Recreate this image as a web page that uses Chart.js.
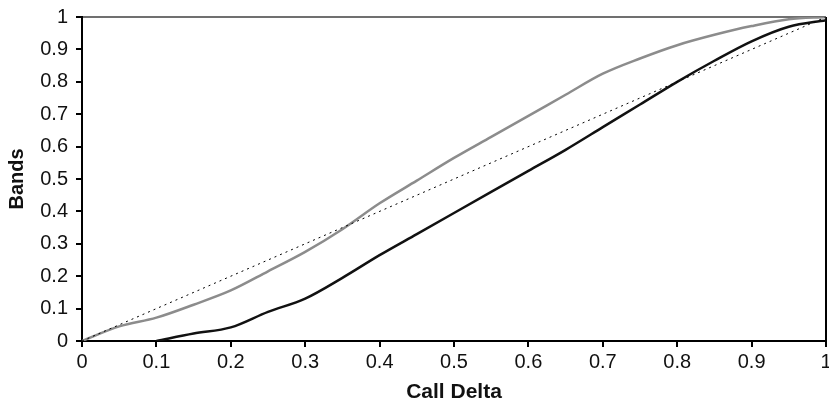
<!DOCTYPE html>
<html>
<head>
<meta charset="utf-8">
<script src="https://cdn.jsdelivr.net/npm/chart.js@4/dist/chart.umd.min.js"></script>
<style>
  html, body { margin: 0; padding: 0; background: #fff; }
  #wrap { width: 829px; height: 403px; }
</style>
</head>
<body>
<div id="wrap"><canvas id="myChart" width="829" height="403"></canvas></div>
<script>
// values
var deltaGray = [0, 0.05, 0.1, 0.15, 0.2, 0.25, 0.3, 0.35, 0.4, 0.45, 0.5, 0.55, 0.6, 0.65, 0.7, 0.75, 0.8, 0.85, 0.9, 0.95, 1];
var bandsGray = [0, 0.045, 0.072, 0.112, 0.156, 0.215, 0.275, 0.345, 0.425, 0.495, 0.565, 0.63, 0.695, 0.76, 0.825, 0.872, 0.913, 0.945, 0.972, 0.993, 1];
var deltaBlack = [0.1, 0.15, 0.2, 0.25, 0.3, 0.35, 0.4, 0.45, 0.5, 0.55, 0.6, 0.65, 0.7, 0.75, 0.8, 0.85, 0.9, 0.95, 1];
var bandsBlack = [0, 0.023, 0.042, 0.09, 0.131, 0.195, 0.265, 0.33, 0.395, 0.46, 0.525, 0.59, 0.66, 0.73, 0.8, 0.865, 0.925, 0.97, 0.99];
var deltaDiag = [0, 1];
var bandsDiag = [0, 1];
var tickValues = [0, 0.1, 0.2, 0.3, 0.4, 0.5, 0.6, 0.7, 0.8, 0.9, 1];

function toPoints(xs, ys) {
    return xs.map(function (x, i) { return { x: x, y: ys[i] }; });
}

var fontFamily = '"Liberation Sans", Arial, sans-serif';

var ctx = document.getElementById('myChart').getContext('2d');
var myChart = new Chart(ctx, {
    type: 'line',
    data: {
        datasets: [
            {
                label: 'diagonal',
                data: toPoints(deltaDiag, bandsDiag),
                borderColor: '#000',
                borderWidth: 1,
                borderDash: [2, 4],
                pointRadius: 0,
                tension: 0
            },
            {
                label: 'upper',
                data: toPoints(deltaGray, bandsGray),
                borderColor: '#8c8c8c',
                borderWidth: 2.5,
                pointRadius: 0,
                cubicInterpolationMode: 'monotone'
            },
            {
                label: 'lower',
                data: toPoints(deltaBlack, bandsBlack),
                borderColor: '#111',
                borderWidth: 2.5,
                pointRadius: 0,
                cubicInterpolationMode: 'monotone'
            }
        ]
    },
    options: {
        responsive: false,
        animation: false,
        layout: { padding: { top: 17, right: 0, left: 0, bottom: 0 } },
        plugins: { legend: { display: false }, tooltip: { enabled: false } },
        scales: {
            x: {
                type: 'linear',
                min: 0,
                max: 1,
                afterBuildTicks: function (scale) {
                    scale.ticks = tickValues.map(function (v) { return { value: v }; });
                },
                afterFit: function (scale) {
                    scale.height = 62;
                    scale.paddingRight = 3;
                    scale.paddingLeft = 0;
                },
                border: { color: '#000', width: 2 },
                grid: {
                    color: function (c) { return c.tick && c.tick.value === 1 ? '#000' : 'rgba(0,0,0,0)'; },
                    tickColor: '#000',
                    tickLength: 6,
                    lineWidth: 2
                },
                ticks: {
                    color: '#111',
                    font: { family: fontFamily, size: 20 },
                    padding: 3,
                    maxRotation: 0,
                    callback: function (v) { return String(v); }
                },
                title: {
                    display: true,
                    text: 'Call Delta',
                    color: '#111',
                    font: { family: fontFamily, size: 21, weight: 'bold', lineHeight: 1 },
                    padding: { top: 0, bottom: 0 }
                }
            },
            y: {
                type: 'linear',
                min: 0,
                max: 1,
                afterBuildTicks: function (scale) {
                    scale.ticks = tickValues.map(function (v) { return { value: v }; });
                },
                afterFit: function (scale) {
                    scale.width = 82;
                    scale.paddingTop = 0;
                    scale.paddingBottom = 0;
                },
                border: { color: '#000', width: 2 },
                grid: {
                    color: function (c) { return c.tick && c.tick.value === 1 ? '#707070' : 'rgba(0,0,0,0)'; },
                    tickColor: '#000',
                    tickLength: 6,
                    lineWidth: 2
                },
                ticks: {
                    color: '#111',
                    font: { family: fontFamily, size: 20 },
                    padding: 8,
                    callback: function (v) { return String(v); }
                },
                title: {
                    display: true,
                    text: 'Bands',
                    color: '#111',
                    font: { family: fontFamily, size: 20, weight: 'bold', lineHeight: 1 },
                    padding: { top: 7, bottom: 0 }
                }
            }
        }
    }
});
</script>
</body>
</html>
